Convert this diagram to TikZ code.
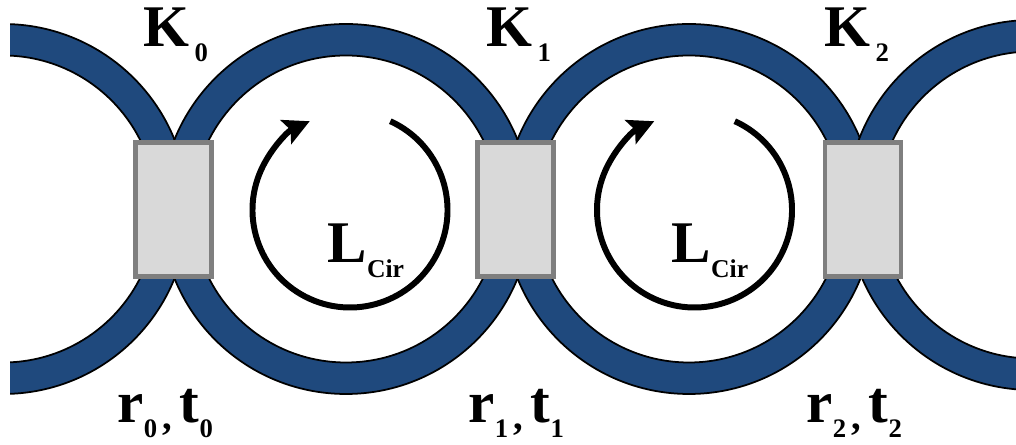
\documentclass[tikz,border=0pt]{standalone}
\usepackage{fontspec}
\setmainfont{Liberation Serif}
\usepackage{xcolor}
\usetikzlibrary{arrows.meta}
\definecolor{Ink}{HTML}{000000}
\definecolor{RingBlue}{HTML}{1F497D}
\definecolor{BoxGrey}{HTML}{D9D9D9}
\definecolor{BoxEdge}{HTML}{7F7F7F}
\newcommand{\biglbl}[1]{{\fontsize{16.8}{20}\selectfont\bfseries #1}}
\newcommand{\sublbl}[1]{\raisebox{-0.15cm}{\fontsize{7.6}{9}\selectfont\bfseries #1}}
\newcommand{\commalbl}{\raisebox{-0.07cm}{\fontsize{11}{12}\selectfont\bfseries ,}}
\tikzset{
  ringband/.style={draw=Ink,line width=0.5pt,fill=RingBlue,even odd rule},
  coupler/.style={draw=BoxEdge,fill=BoxGrey,line width=1.15pt,minimum width=7.6mm,minimum height=13.4mm,inner sep=0pt},
  label/.style={inner sep=0pt,anchor=base west},
  circarrow/.style={-{Stealth[length=2.6mm,width=2.6mm,inset=0.5mm]},Ink,line width=1.7pt}
}
\begin{document}
\begin{tikzpicture}
  \useasboundingbox (0,0) rectangle (10.16,4.45);
  % rings, cut at the picture's left and right sides
  \begin{scope}
    \clip (0.10,0) rectangle (10.16,4.45);
    \foreach \x/\y in {0.03/2.36,3.46/2.36,6.89/2.36,10.32/2.40}
      \draw[ringband] (\x,\y) circle (1.85) (\x,\y) circle (1.535);
  \end{scope}
  % couplers
  \foreach \n/\x in {0/1.735,1/5.155,2/8.63}
    \node[coupler] (box\n) at (\x,2.355) {};
  % circulation arrows
  \foreach \x in {3.50,6.945}
    \draw[circarrow] (\x,2.35) ++(65.6:0.975) arc (65.6:-245.6:0.975);
  \node[label] (L0) at (3.27,1.82) {\biglbl{L}\raisebox{-0.15cm}{\fontsize{7.3}{10}\selectfont\bfseries Cir}};
  \node[label] (L1) at (6.71,1.82) {\biglbl{L}\raisebox{-0.15cm}{\fontsize{7.3}{10}\selectfont\bfseries Cir}};
  % coupling labels
  \foreach \n/\x in {0/1.43,1/4.86,2/8.24}
    \node[label] (K\n) at (\x,3.98) {\biglbl{K}\kern0.05cm\sublbl{\n}};
  \foreach \n/\x in {0/1.17,1/4.68,2/8.06}
    \node[label] (rt\n) at (\x,0.22) {\biglbl{r}\sublbl{\n}\kern0.05cm\commalbl\kern0.08cm\biglbl{t}\sublbl{\n}};
\end{tikzpicture}
\end{document}
